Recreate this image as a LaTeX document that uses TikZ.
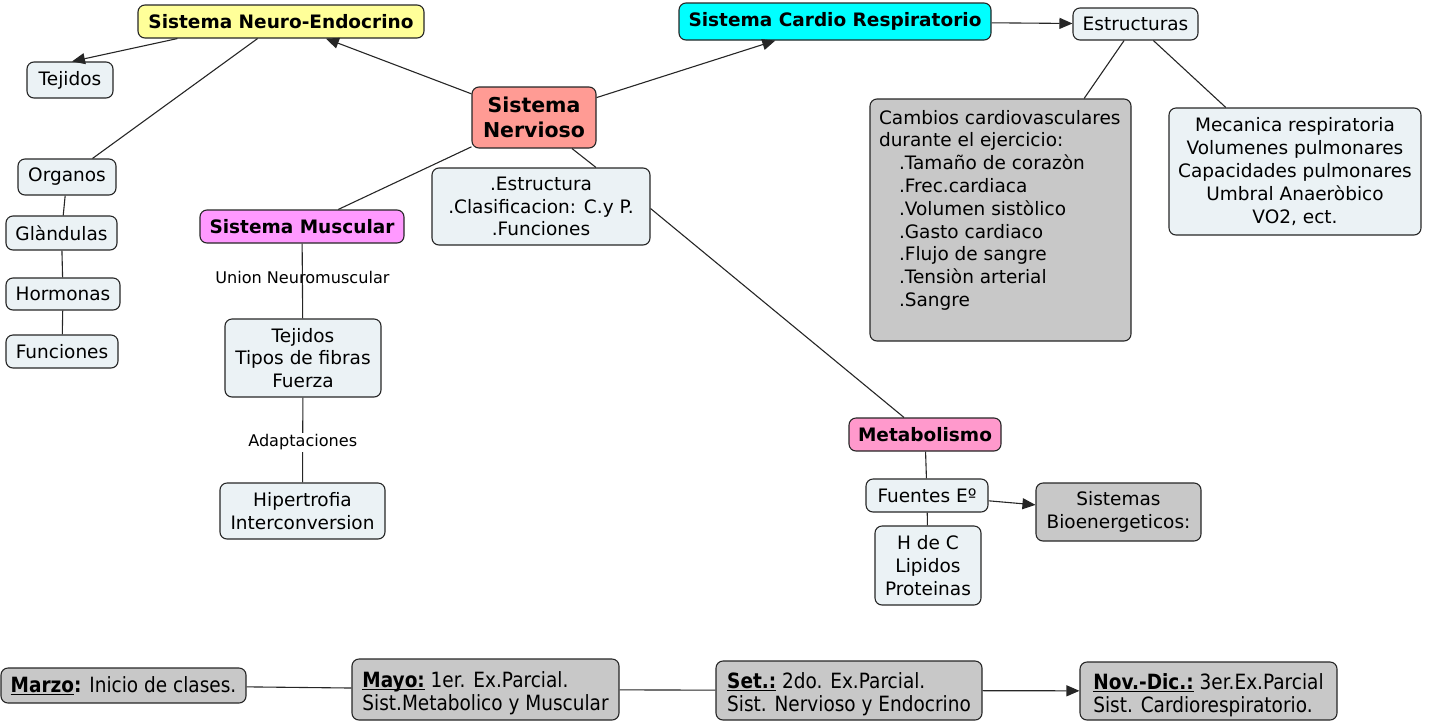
\documentclass[tikz,border=0pt]{standalone}
\usepackage{fontspec}
\setmainfont{DejaVu Sans}
\newfontfamily\condfont[FakeStretch=0.88]{DejaVu Sans}
\usetikzlibrary{arrows.meta}
\definecolor{boxfill}{HTML}{EBF2F5}
\definecolor{graybox}{HTML}{C8C8C8}
\definecolor{yel}{HTML}{FFFF99}
\definecolor{cyn}{HTML}{00FFFF}
\definecolor{salmon}{HTML}{FF9B94}
\definecolor{viol}{HTML}{FF99FF}
\definecolor{pnk}{HTML}{FF99CC}
\newcommand\myul[1]{\setbox0=\hbox{#1}\makebox[0pt][l]{\rule[-2.6pt]{\wd0}{1.1pt}}\box0}
\newcommand\tallstrut{\rule{0pt}{24pt}}
\begin{document}
\begin{tikzpicture}[x=1pt,y=-1pt,
  cbox/.style={draw=black!85, line width=1.1pt, rounded corners=7pt, fill=boxfill, inner sep=0pt, align=center, font=\fontsize{18.5}{22.8}\selectfont},
  ttl/.style={cbox, font=\fontsize{18.5}{22.8}\selectfont\bfseries},
  sz/.style 2 args={minimum width=#1pt, minimum height=#2pt},
  conn/.style={draw=black!85, line width=1.1pt},
  arr/.style={conn, -{Triangle[length=13pt,width=11pt]}},
  lbl/.style={font=\fontsize{16.1}{19}\selectfont, inner sep=2pt},
  tline/.style={cbox, fill=graybox, align=left, font=\condfont\fontsize{21}{23}\selectfont}
]
\useasboundingbox (0,0) rectangle (1432,721);

% Neuro-endocrine branch
\node[ttl, fill=yel, sz={286}{33}] (ne) at (281,21.5) {Sistema Neuro-Endocrino};
\node[cbox, sz={86}{36}] (tej1) at (70,80) {Tejidos};
\node[cbox, sz={98}{36}] (org) at (67,177) {Organos};
\node[cbox, sz={111}{34}] (gla) at (61.5,233) {Glàndulas};
\node[cbox, sz={114}{32}] (hor) at (63,294) {Hormonas};
\node[cbox, sz={112}{33}] (fun) at (62,351.5) {Funciones};

% centre
\node[ttl, fill=salmon, sz={124}{61}, font=\fontsize{20.5}{25}\selectfont\bfseries] (sn) at (534,117.5) {Sistema\\Nervioso};
\node[cbox, sz={218}{77}] (est) at (541,206.5) {.Estructura\\.Clasificacion: C.y P.\\.Funciones};

% cardio
\node[ttl, fill=cyn, sz={312}{37}] (cr) at (835,21.5) {Sistema Cardio Respiratorio};
\node[cbox, sz={125}{32}] (estr) at (1135.5,24) {Estructuras};
\node[cbox, fill=graybox, sz={261}{242}] (cam) at (1000.5,220) {\parbox[c][220pt][t]{243pt}{\raggedright Cambios cardiovasculares\\durante el ejercicio:\\
\hspace*{20pt}.Tamaño de corazòn\\
\hspace*{20pt}.Frec.cardiaca\\
\hspace*{20pt}.Volumen sistòlico\\
\hspace*{20pt}.Gasto cardiaco\\
\hspace*{20pt}.Flujo de sangre\\
\hspace*{20pt}.Tensiòn arterial\\
\hspace*{20pt}.Sangre}};
\node[cbox, sz={252}{127}] (mec) at (1295,171.5) {Mecanica respiratoria\\Volumenes pulmonares\\Capacidades pulmonares\\Umbral Anaeròbico\\VO2, ect.};

% muscular
\node[ttl, fill=viol, sz={204}{33}] (sm) at (302,226.5) {Sistema Muscular};
\node[cbox, sz={156}{78}] (tb) at (303,358) {Tejidos\\Tipos de fibras\\Fuerza};
\node[cbox, sz={165}{56}] (hip) at (302.5,511) {Hipertrofia\\Interconversion};

% metabolism
\node[ttl, fill=pnk, sz={152}{33}] (met) at (925,434.5) {Metabolismo};
\node[cbox, sz={122}{33}] (fue) at (927,495.5) {Fuentes Eº};
\node[cbox, sz={106}{79}] (hdc) at (928,565.5) {H de C\\Lipidos\\Proteinas};
\node[cbox, fill=graybox, sz={165}{58}] (sb) at (1118.5,512) {Sistemas\\Bioenergeticos:};

% timeline
\node[tline, sz={245}{35}] (mar) at (123.5,685.5) {\textbf{\myul{Marzo}:} Inicio de clases.};
\node[tline, sz={267}{61}] (may) at (485.5,689.5) {\tallstrut\textbf{\myul{Mayo:}} 1er. Ex.Parcial.\\Sist.Metabolico y Muscular};
\node[tline, sz={266}{59}] (set) at (849,690.5) {\tallstrut\textbf{\myul{Set.:}} 2do. Ex.Parcial.\\Sist. Nervioso y Endocrino};
\node[tline, sz={257}{58}] (nov) at (1208.5,691) {\tallstrut\textbf{\myul{Nov.-Dic.:}} 3er.Ex.Parcial\\Sist. Cardiorespiratorio.};

% connectors
\draw[arr] ([xshift=40pt]ne.south west) -- ([xshift=2pt]tej1.north);
\draw[conn] (ne) -- (org);
\draw[conn] (org) -- (gla);
\draw[conn] (gla) -- (hor);
\draw[conn] (hor) -- (fun);
\draw[arr] (sn) -- (ne);
\draw[arr] (sn) -- (cr);
\draw[arr] (cr) -- (estr);
\draw[conn] (estr) -- (cam);
\draw[conn] (estr) -- (mec);
\draw[conn] (sn) -- (sm);
\draw[conn] ([xshift=38pt]sn.south) -- ([xshift=55pt]est.north);
\draw[conn] ([yshift=-2pt]est.east) -- ([xshift=-21pt]met.north);
\draw[conn] (sm) -- node[lbl, pos=0.45] {Union Neuromuscular} (tb);
\draw[conn] (tb) -- node[lbl, fill=white, pos=0.53] {Adaptaciones} (hip);
\draw[conn] (met) -- (fue);
\draw[conn] (fue) -- (hdc);
\draw[arr] (fue) -- (sb);
\draw[conn] (mar) -- (may);
\draw[conn] (may) -- (set);
\draw[arr] (set) -- (nov);
\end{tikzpicture}
\end{document}
